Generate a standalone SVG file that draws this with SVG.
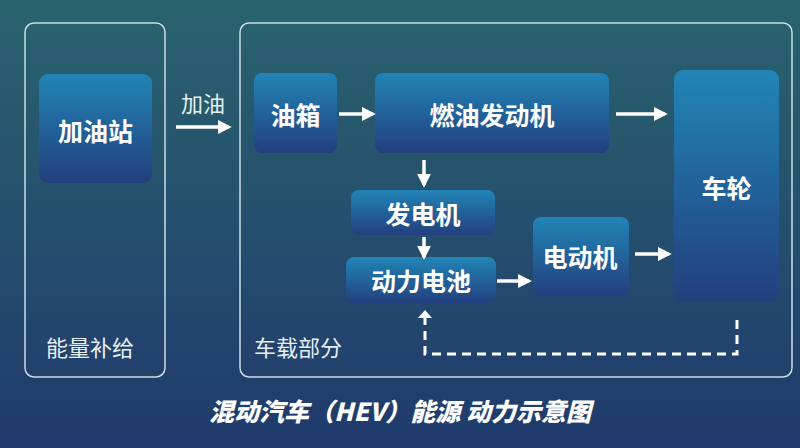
<svg xmlns="http://www.w3.org/2000/svg" width="800" height="448" viewBox="0 0 800 448">
<defs>
<linearGradient id="bg" x1="0" y1="0" x2="0" y2="1">
<stop offset="0" stop-color="#29636d"/>
<stop offset="0.5" stop-color="#254f6e"/>
<stop offset="1" stop-color="#1f3a6c"/>
</linearGradient>
<linearGradient id="ng" x1="0" y1="0" x2="0" y2="1">
<stop offset="0" stop-color="#2185b6"/>
<stop offset="1" stop-color="#233f7e"/>
</linearGradient>
<marker id="ah" viewBox="0 0 10 10" refX="8" refY="5" markerWidth="4" markerHeight="4" orient="auto" markerUnits="strokeWidth">
<path d="M0,0 L10,5 L0,10 Z" fill="#ffffff"/>
</marker>
</defs>
<style>
.frame{fill:none;stroke:#c9dde6;stroke-width:1.5}
.node{fill:url(#ng)}
.t{font-family:"Noto Sans CJK SC","Noto Sans",sans-serif;fill:#ffffff;text-anchor:middle;dominant-baseline:central}
.b{font-weight:bold}
.lbl{font-family:"Noto Sans CJK SC","Noto Sans",sans-serif;fill:#e6eef2;font-size:22px}
.c{stroke:#ffffff;stroke-width:3.5;fill:none;marker-end:url(#ah)}
.d{stroke:#ffffff;stroke-width:3;fill:none;stroke-dasharray:9,6}
</style>
<rect width="800" height="448" fill="url(#bg)"/>
<g id="frame-supply">
<rect class="frame" x="25" y="23" width="140" height="354" rx="9"/>
<text class="lbl" x="46" y="356">能量补给</text>
</g>
<g id="frame-vehicle">
<rect class="frame" x="240" y="23" width="552" height="354" rx="9"/>
<text class="lbl" x="254" y="356">车载部分</text>
</g>
<g id="station">
<rect class="node" x="39" y="74" width="113" height="109" rx="9"/>
<text class="t b" x="95.5" y="130" font-size="25">加油站</text>
</g>
<g id="tank">
<rect class="node" x="254" y="73" width="83" height="80" rx="8"/>
<text class="t b" x="295.5" y="114" font-size="25">油箱</text>
</g>
<g id="engine">
<rect class="node" x="375" y="73" width="234" height="80" rx="8"/>
<text class="t b" x="492" y="114" font-size="25">燃油发动机</text>
</g>
<g id="wheel">
<rect class="node" x="674" y="70" width="105" height="232" rx="9"/>
<text class="t b" x="726.5" y="187" font-size="25">车轮</text>
</g>
<g id="generator">
<rect class="node" x="351" y="190" width="144" height="45" rx="8"/>
<text class="t b" x="423" y="213" font-size="25">发电机</text>
</g>
<g id="battery">
<rect class="node" x="346" y="257" width="150" height="46" rx="8"/>
<text class="t b" x="421" y="280" font-size="25">动力电池</text>
</g>
<g id="motor">
<rect class="node" x="533" y="217" width="96" height="79" rx="8"/>
<text class="t b" x="580" y="256" font-size="25">电动机</text>
</g>
<g id="connectors">
<text class="lbl" x="203" y="112" text-anchor="middle" fill="#ffffff">加油</text>
<line class="c" x1="176" y1="127" x2="229" y2="127"/>
<line class="c" x1="339" y1="114" x2="373" y2="114"/>
<line class="c" x1="616" y1="114" x2="665" y2="114"/>
<line class="c" x1="424" y1="160" x2="424" y2="185"/>
<line class="c" x1="424" y1="237" x2="424" y2="257"/>
<line class="c" x1="497" y1="281" x2="529" y2="281"/>
<line class="c" x1="635" y1="254" x2="669" y2="254"/>
<path class="d" d="M737,320 V354 H425 V318"/>
<path d="M418,318 L425,310 L432,318 Z" fill="#ffffff"/>
</g>
<text x="400" y="410" font-family="'Noto Sans CJK SC','Noto Sans',sans-serif" font-size="25" font-weight="900" font-style="italic" fill="#ffffff" text-anchor="middle" dominant-baseline="central">混动汽车（HEV）能源 动力示意图</text>
</svg>
